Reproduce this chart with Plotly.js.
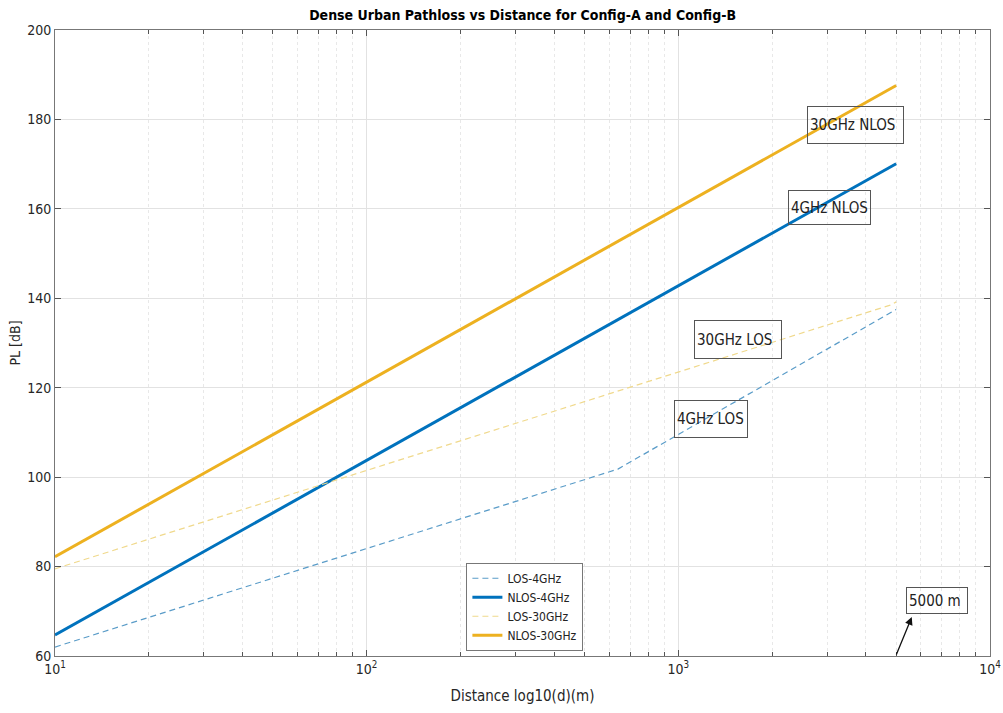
<!DOCTYPE html>
<html><head><meta charset="utf-8">
<script src="https://cdn.plot.ly/plotly-3.0.1.min.js"></script>
<style>html,body{margin:0;padding:0;background:#fff}#chart{width:1003px;height:713px}</style>
</head><body><div id="chart"></div>
<script>
// Data (distance in m, path loss in dB)
const losD4 = [10, 640, 5000];
const losPL4 = [62.0, 101.8, 137.5];
const nlosD4 = [10, 5000];
const nlosPL4 = [64.7, 170.1];
const losD30 = [10, 4800, 5000];
const losPL30 = [79.5, 138.5, 139.2];
const nlosD30 = [10, 5000];
const nlosPL30 = [82.2, 187.6];
const seriesNames = ['LOS-4GHz', 'NLOS-4GHz', 'LOS-30GHz', 'NLOS-30GHz'];
const xTickVals = [10, 100, 1000, 10000];
const xTickText = ['10<sup>1</sup>', '10<sup>2</sup>', '10<sup>3</sup>', '10<sup>4</sup>'];
const yTickVals = [60, 80, 100, 120, 140, 160, 180, 200];
const labelTexts = ['30GHz NLOS', '4GHz NLOS', '30GHz LOS', '4GHz LOS', '5000 m'];

const blue = '#0072BD', gold = '#EDB120';
const font = 'DejaVu Sans Condensed, DejaVu Sans, sans-serif';

const traces = [
  {x: losD4, y: losPL4, name: seriesNames[0], mode: 'lines', line: {color: '#5a9cc8', width: 1.2, dash: '6px,4px'}},
  {x: nlosD4, y: nlosPL4, name: seriesNames[1], mode: 'lines', line: {color: blue, width: 3}},
  {x: losD30, y: losPL30, name: seriesNames[2], mode: 'lines', line: {color: '#f0d98c', width: 1.2, dash: '6px,4px'}},
  {x: nlosD30, y: nlosPL30, name: seriesNames[3], mode: 'lines', line: {color: gold, width: 3}}
];

function box(text, x, y, w, h) {
  return {text: text, xref: 'paper', yref: 'paper', x: x, y: y, xanchor: 'center', yanchor: 'middle',
    showarrow: false, width: w, height: h, align: 'left', valign: 'middle',
    bordercolor: '#555', borderwidth: 1, borderpad: 2,
    font: {family: font, size: 15, color: '#222'}};
}

const layout = {
  width: 1003, height: 713,
  margin: {l: 55, r: 13, t: 30, b: 57},
  paper_bgcolor: '#fff', plot_bgcolor: '#fff',
  title: {text: '<b>Dense Urban Pathloss vs Distance for Config-A and Config-B</b>', x: 0.521, xanchor: 'center', y: 0.979, yanchor: 'middle',
    font: {family: font, size: 14, color: '#000'}},
  xaxis: {type: 'log', range: [1, 4], tickvals: xTickVals, ticktext: xTickText,
    ticks: 'inside', ticklen: 6, tickcolor: '#555', mirror: 'ticks', showline: true, linecolor: '#777', linewidth: 1,
    showgrid: true, gridcolor: '#e2e2e2', zeroline: false,
    minor: {dtick: 'D1', showgrid: true, gridcolor: '#e8e8e8', griddash: 'dot', ticks: 'inside', ticklen: 4, tickcolor: '#555'},
    tickfont: {family: font, size: 14, color: '#262626'},
    title: {text: 'Distance log10(d)(m)', font: {family: font, size: 15, color: '#262626'}, standoff: 14}},
  yaxis: {range: [60, 200], tickvals: yTickVals, ticks: 'inside', ticklen: 6, tickcolor: '#555', mirror: 'ticks',
    showline: true, linecolor: '#777', linewidth: 1, showgrid: true, gridcolor: '#e2e2e2', zeroline: false,
    tickfont: {family: font, size: 14, color: '#262626'},
    title: {text: 'PL [dB]', font: {family: font, size: 14, color: '#262626'}, standoff: 3}},
  showlegend: true,
  legend: {x: 0.44, y: 0.149, xanchor: 'left', yanchor: 'top', bgcolor: '#fff', bordercolor: '#777', borderwidth: 1,
    font: {family: font, size: 12, color: '#222'}, tracegroupgap: 0, itemwidth: 30},
  annotations: [
    box(labelTexts[0], 0.856, 0.849, 91, 32),
    box(labelTexts[1], 0.828, 0.717, 77, 29),
    box(labelTexts[2], 0.730, 0.505, 82, 33),
    box(labelTexts[3], 0.702, 0.379, 68, 32),
    box(labelTexts[4], 0.943, 0.089, 56, 21),
    {x: 3.749, y: 68.7, xref: 'x', yref: 'y', ax: -16, ay: 39, text: '', showarrow: true,
      arrowhead: 2, arrowsize: 1.2, arrowwidth: 1.3, arrowcolor: '#111'}
  ]
};

Plotly.newPlot('chart', traces, layout, {displayModeBar: false, staticPlot: true});
</script></body></html>
